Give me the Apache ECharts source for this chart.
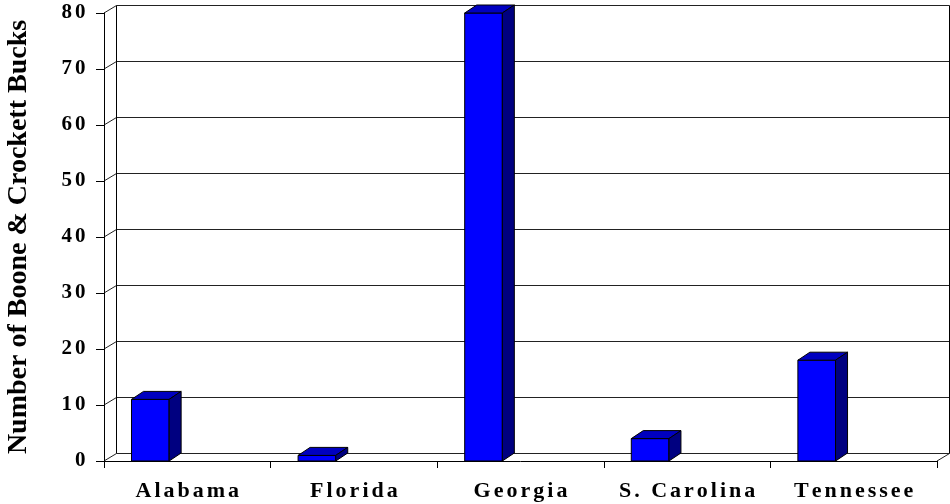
<!DOCTYPE html>
<html>
<head>
<meta charset="utf-8">
<script src="https://cdn.jsdelivr.net/npm/echarts@6/dist/echarts.min.js"></script>
<style>
html,body{margin:0;padding:0;background:#fff;}
#chart{width:950px;height:504px;}
</style>
</head>
<body>
<div id="chart"></div>
<script>
const categories = ['Alabama', 'Florida', 'Georgia', 'S. Carolina', 'Tennessee'];
const bucks = [11, 1, 80, 4, 18];
const yTicks = [0, 10, 20, 30, 40, 50, 60, 70, 80];
const yTitle = 'Number of Boone & Crockett Bucks';

const FONT = "'Liberation Serif', 'Times New Roman', serif";
const WALL_DX = 12.5, WALL_DY = 7.5;
const BAR_DX = 12, BAR_DY = 8;

const chart = echarts.init(document.getElementById('chart'));

// spread letters apart (each character kept as real text)
function spaced(s) {
  return String(s).split('').map(ch => '{s|' + ch + '}').join('');
}

function wallItem(params, api) {
  const v = api.value(1);
  const n = categories.length;
  const bw = api.size([1, 0])[0];
  const p = api.coord([0, v]);
  const y = p[1];
  const xL = p[0] - bw / 2;
  const xR = api.coord([n - 1, v])[0] + bw / 2;
  const y0 = api.coord([0, 0])[1];
  const style = {stroke: '#222', lineWidth: 1, fill: null};
  const kids = [
    {type: 'line', shape: {x1: xL, y1: y, x2: xL + WALL_DX, y2: y - WALL_DY}, style},
    {type: 'line', shape: {x1: xL + WALL_DX, y1: y - WALL_DY, x2: xR + WALL_DX, y2: y - WALL_DY}, style}
  ];
  if (v === 0) {
    kids.push({type: 'line', shape: {x1: xR, y1: y, x2: xR + WALL_DX, y2: y - WALL_DY}, style});
  }
  if (v === yTicks[yTicks.length - 1]) {
    kids.push({type: 'line', shape: {x1: xL + WALL_DX, y1: y - WALL_DY, x2: xL + WALL_DX, y2: y0 - WALL_DY}, style: {stroke: '#000', lineWidth: 1}});
    kids.push({type: 'line', shape: {x1: xR + WALL_DX, y1: y - WALL_DY, x2: xR + WALL_DX, y2: y0 - WALL_DY}, style: {stroke: '#000', lineWidth: 1}});
  }
  return {type: 'group', children: kids};
}

function barItem(params, api) {
  const idx = api.value(0);
  const val = api.value(1);
  const bw = api.size([1, 0])[0];
  const c0 = api.coord([idx, 0]);
  const c1 = api.coord([idx, val]);
  const left = c0[0] - bw / 2 + 0.165 * bw;
  const w = 0.226 * bw;
  const y0 = c0[1], y1 = c1[1];
  const line = {stroke: '#000', lineWidth: 1};
  return {
    type: 'group',
    children: [
      {type: 'rect', shape: {x: left, y: y1, width: w, height: y0 - y1}, style: Object.assign({fill: '#0000FF'}, line)},
      {type: 'polygon', shape: {points: [[left, y1], [left + BAR_DX, y1 - BAR_DY], [left + w + BAR_DX, y1 - BAR_DY], [left + w, y1]]}, style: Object.assign({fill: '#0000C0'}, line)},
      {type: 'polygon', shape: {points: [[left + w, y1], [left + w + BAR_DX, y1 - BAR_DY], [left + w + BAR_DX, y0 - BAR_DY], [left + w, y0]]}, style: Object.assign({fill: '#000080'}, line)}
    ]
  };
}

chart.setOption({
  animation: false,
  backgroundColor: '#fff',
  grid: {left: 104, right: 13, top: 13, bottom: 43, containLabel: false, outerBoundsMode: 'none'},
  xAxis: {
    type: 'category',
    data: categories,
    axisLine: {show: true, lineStyle: {color: '#000', width: 1}},
    axisTick: {show: true, length: 7, lineStyle: {color: '#000'}},
    axisLabel: {
      color: '#000', margin: 19, interval: 0, hideOverlap: false,
      formatter: spaced,
      rich: {s: {color: '#000', fontFamily: FONT, fontWeight: 'bold', fontSize: 22, padding: [0, 1.5, 0, 1.5]}}
    },
    splitLine: {show: false},
    z: 10
  },
  yAxis: {
    type: 'value',
    min: 0, max: 80, interval: 10,
    axisLine: {show: true, lineStyle: {color: '#000', width: 1}},
    axisTick: {show: true, length: 8, lineStyle: {color: '#000'}},
    axisLabel: {
      color: '#000', margin: 17,
      formatter: spaced,
      rich: {s: {color: '#000', fontFamily: FONT, fontWeight: 'bold', fontSize: 21, padding: [0, 1.5, 0, 1.5]}}
    },
    splitLine: {show: false},
    name: yTitle,
    nameLocation: 'middle',
    nameGap: 71,
    nameTextStyle: {color: '#000', fontFamily: FONT, fontWeight: 'bold', fontSize: 28},
    z: 10
  },
  series: [
    {
      type: 'custom',
      renderItem: wallItem,
      clip: false,
      silent: true,
      data: yTicks.map(v => [0, v]),
      z: 1
    },
    {
      type: 'custom',
      renderItem: barItem,
      clip: false,
      data: bucks.map((v, i) => [i, v]),
      z: 5
    }
  ]
});
</script>
</body>
</html>
